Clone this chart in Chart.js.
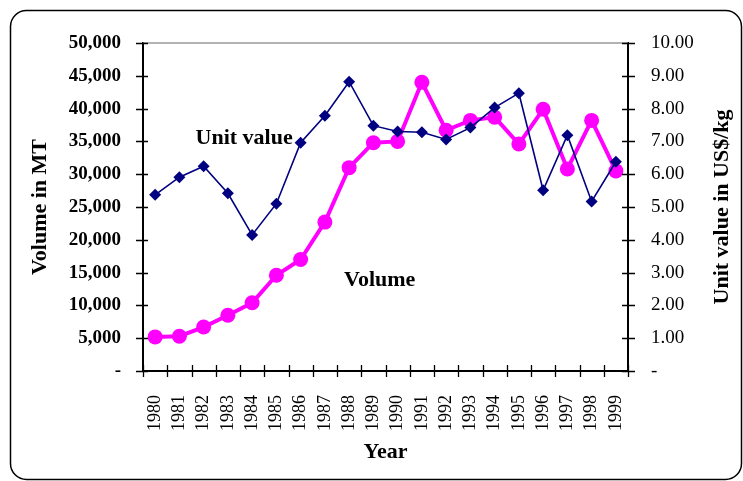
<!DOCTYPE html>
<html>
<head>
<meta charset="utf-8">
<script src="https://cdn.jsdelivr.net/npm/chart.js@4/dist/chart.umd.min.js"></script>
<style>
  html, body { margin: 0; padding: 0; background: #fff; }
  #wrap { position: relative; width: 743px; height: 481px; }
</style>
</head>
<body>
<div id="wrap"><canvas id="myChart"></canvas></div>
<script>
// setup
const years = ['1980', '1981', '1982', '1983', '1984', '1985', '1986', '1987', '1988', '1989',
  '1990', '1991', '1992', '1993', '1994', '1995', '1996', '1997', '1998', '1999'];
const volume = [5200, 5300, 6700, 8500, 10400, 14600, 17000, 22700, 31000, 34800,
  35000, 44000, 36700, 38200, 38700, 34600, 39900, 30800, 38200, 30500];
const unitValue = [5.37, 5.91, 6.24, 5.42, 4.15, 5.10, 6.96, 7.78, 8.82, 7.48,
  7.30, 7.28, 7.06, 7.42, 8.03, 8.47, 5.51, 7.19, 5.17, 6.38];

const serif = '"Liberation Serif", "Times New Roman", serif';
const rightTitle = 'Unit value in US$/kg';

// text labels placed beside the lines
const seriesLabels = [
  { text: 'Unit value', x: 3.67, y: 35400 },
  { text: 'Volume', x: 9.26, y: 13900 },
];

// frame, top border line, ticks crossing the axes, inline labels
const decorations = {
  id: 'decorations',
  beforeDraw(chart) {
    const ctx = chart.ctx;
    ctx.save();
    ctx.strokeStyle = '#000';
    ctx.lineWidth = 1.5;
    ctx.beginPath();
    ctx.roundRect(10.5, 10.5, 731, 469, 16);
    ctx.stroke();
    ctx.restore();
  },
  afterDatasetsDraw(chart) {
    const { ctx, chartArea: a, scales } = chart;
    ctx.save();
    ctx.strokeStyle = '#999';
    ctx.lineWidth = 1.5;
    ctx.beginPath();
    ctx.moveTo(a.left, a.top);
    ctx.lineTo(a.right, a.top);
    ctx.stroke();

    ctx.strokeStyle = '#000';
    ctx.lineWidth = 1.3;
    ctx.beginPath();
    scales.y.ticks.forEach((t, i) => {
      const py = Math.round(scales.y.getPixelForTick(i)) + 0.5;
      ctx.moveTo(a.left - 7, py); ctx.lineTo(a.left + 5, py);
    });
    scales.y1.ticks.forEach((t, i) => {
      const py = Math.round(scales.y1.getPixelForTick(i)) + 0.5;
      ctx.moveTo(a.right - 6, py); ctx.lineTo(a.right + 7, py);
    });
    for (let i = 0; i <= years.length; i++) {
      const px = Math.round(scales.x.getPixelForValue(i - 0.5)) + 0.5;
      ctx.moveTo(px, a.bottom - 6); ctx.lineTo(px, a.bottom + 6);
    }
    ctx.stroke();

    ctx.fillStyle = '#000';
    ctx.font = 'bold 22px ' + serif;
    ctx.textAlign = 'center';
    ctx.textBaseline = 'middle';
    seriesLabels.forEach(l => {
      ctx.fillText(l.text, scales.x.getPixelForValue(l.x), scales.y.getPixelForValue(l.y));
    });

    // right axis title, reading bottom to top
    ctx.translate(722, (a.top + a.bottom) / 2);
    ctx.rotate(-Math.PI / 2);
    ctx.fillText(rightTitle, 0, 0);
    ctx.restore();
  }
};

const data = {
  labels: years,
  datasets: [{
    label: 'Unit value',
    data: unitValue,
    yAxisID: 'y1',
    borderColor: '#000080',
    backgroundColor: '#000080',
    borderWidth: 1.6,
    pointStyle: 'rectRot',
    pointRadius: 6,
    pointBorderWidth: 0,
    tension: 0,
  }, {
    label: 'Volume',
    data: volume,
    yAxisID: 'y',
    borderColor: '#ff00ff',
    backgroundColor: '#ff00ff',
    borderWidth: 4,
    pointStyle: 'circle',
    pointRadius: 7.5,
    pointBorderWidth: 0,
    tension: 0,
  }]
};

const noGrid = { display: true, drawOnChartArea: false, color: 'rgba(0,0,0,0)', tickLength: 6 };

// config
const config = {
  type: 'line',
  data,
  options: {
    responsive: true,
    maintainAspectRatio: false,
    animation: false,
    layout: { padding: { top: 43, left: 0, right: 0, bottom: 0 } },
    plugins: {
      legend: { display: false },
      tooltip: { enabled: false },
    },
    scales: {
      x: {
        offset: true,
        afterFit: s => { s.height = 110; },
        grid: { ...noGrid, offset: true },
        border: { display: true, color: '#000', width: 2 },
        ticks: {
          autoSkip: false, minRotation: 90, maxRotation: 90, padding: 18,
          color: '#000', font: { family: serif, size: 18 }
        },
        title: {
          display: true, text: 'Year', color: '#000',
          font: { family: serif, size: 22, weight: 'bold' }, padding: { top: 0, bottom: 15 }
        }
      },
      y: {
        position: 'left',
        min: 0, max: 50000,
        afterFit: s => { s.width = 143; },
        grid: noGrid,
        border: { display: true, color: '#000', width: 2 },
        ticks: {
          stepSize: 5000, padding: 16, color: '#000',
          font: { family: serif, size: 19, weight: 'bold' },
          callback: v => v === 0 ? '-' : v.toLocaleString('en-US')
        },
        title: {
          display: true, text: 'Volume in MT', color: '#000',
          font: { family: serif, size: 22, weight: 'bold' }, padding: { top: 27, bottom: 0 }
        }
      },
      y1: {
        position: 'right',
        min: 0, max: 10,
        afterFit: s => { s.width = 115; },
        grid: { ...noGrid, tickLength: 7 },
        border: { display: true, color: '#000', width: 2 },
        ticks: {
          stepSize: 1, padding: 16, color: '#000',
          font: { family: serif, size: 19 },
          callback: v => v === 0 ? '-' : v.toFixed(2)
        },
        title: { display: false }
      }
    }
  },
  plugins: [decorations]
};

// render init block
const myChart = new Chart(document.getElementById('myChart'), config);
</script>
</body>
</html>
